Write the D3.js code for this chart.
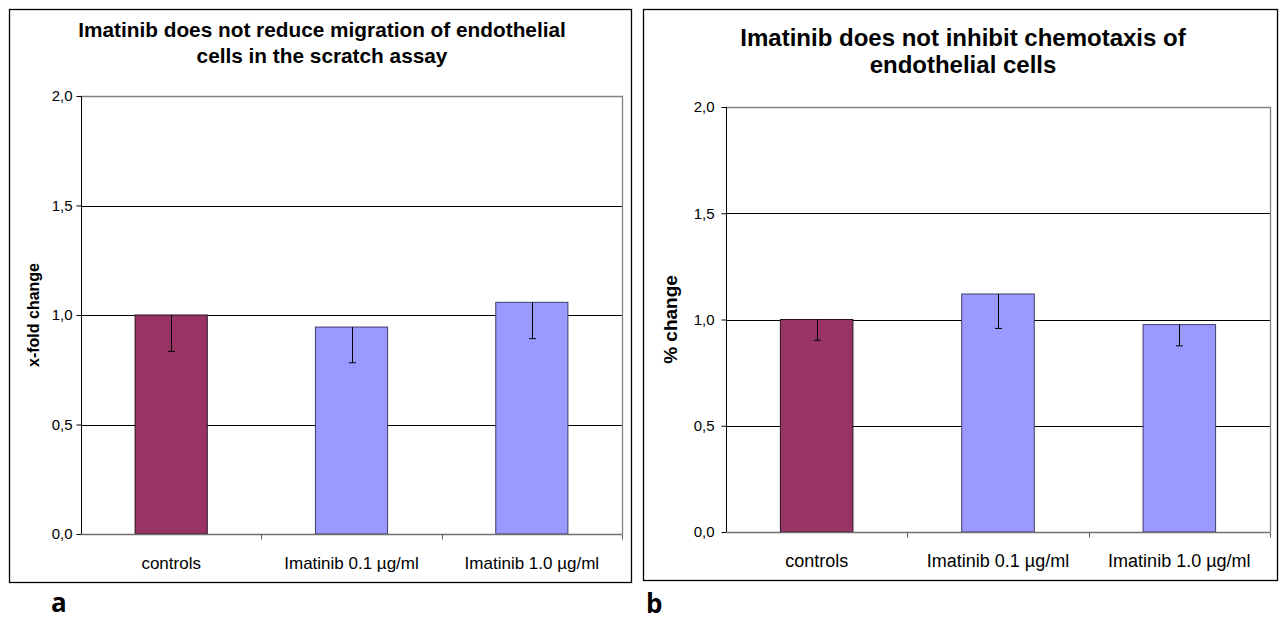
<!DOCTYPE html>
<html>
<head>
<meta charset="utf-8">
<script src="https://cdn.jsdelivr.net/npm/d3@7"></script>
<style>
  html, body { margin: 0; padding: 0; background: #ffffff; }
  svg { display: block; }
</style>
</head>
<body>
<svg id="chart" width="1279" height="620"></svg>
<script>
// Categories shared by both panels
const categories = ["controls", "Imatinib 0.1 µg/ml", "Imatinib 1.0 µg/ml"];

// Panel a: scratch assay migration (x-fold change, mean and minus error)
const migrationValues = [1.00, 0.945, 1.058];
const migrationErrors = [0.166, 0.163, 0.166];

// Panel b: chemotaxis (% change, mean and minus error)
const chemotaxisValues = [1.00, 1.12, 0.976];
const chemotaxisErrors = [0.098, 0.162, 0.100];

// Y axis ticks
const yTicks = [0, 0.5, 1.0, 1.5, 2.0];

const svg = d3.select("#chart");
const commaFmt = v => d3.format(".1f")(v).replace(".", ",");
const FONT = "Liberation Sans, Arial, sans-serif";

function drawPanel(opts) {
  const g = svg.append("g");

  // Panel frame
  g.append("rect")
    .attr("x", opts.frame.x0).attr("y", opts.frame.y0)
    .attr("width", opts.frame.x1 - opts.frame.x0)
    .attr("height", opts.frame.y1 - opts.frame.y0)
    .attr("fill", "#ffffff")
    .attr("stroke", "#000000")
    .attr("stroke-width", 1.3);

  const x = d3.scaleBand()
    .domain(categories)
    .range([opts.plot.x0, opts.plot.x1])
    .paddingInner(0).paddingOuter(0);

  const y = d3.scaleLinear()
    .domain([0, 2])
    .range([opts.plot.y1, opts.plot.y0]);

  // Gridlines
  g.append("g")
    .selectAll("line")
    .data(yTicks.filter(t => t > 0 && t < 2))
    .join("line")
    .attr("x1", opts.plot.x0).attr("x2", opts.plot.x1)
    .attr("y1", d => Math.round(y(d)) + 0.5).attr("y2", d => Math.round(y(d)) + 0.5)
    .attr("stroke", "#000000")
    .attr("stroke-width", 1);

  // Plot area top and right border
  g.append("path")
    .attr("d", `M${opts.plot.x0},${Math.round(y(2)) + 0.5}H${opts.plot.x1 + 0.5}V${opts.plot.y1}`)
    .attr("fill", "none")
    .attr("stroke", "#808080")
    .attr("stroke-width", 1.3);

  // Bars
  const barW = x.bandwidth() * 0.4;
  g.append("g")
    .selectAll("rect")
    .data(categories)
    .join("rect")
    .attr("x", d => x(d) + (x.bandwidth() - barW) / 2)
    .attr("y", (d, i) => y(opts.values[i]))
    .attr("width", barW)
    .attr("height", (d, i) => y(0) - y(opts.values[i]))
    .attr("fill", (d, i) => i === 0 ? "#993366" : "#9999FF")
    .attr("stroke", (d, i) => i === 0 ? "#2a0f1c" : "#3c3c66")
    .attr("stroke-width", 1);

  // Minus error bars
  const eb = g.append("g").attr("stroke", "#000000").attr("stroke-width", 1);
  categories.forEach((c, i) => {
    const cx = Math.round(x(c) + x.bandwidth() / 2) + 0.5;
    const top = y(opts.values[i]);
    const bot = y(opts.values[i] - opts.errors[i]);
    eb.append("line").attr("x1", cx).attr("x2", cx).attr("y1", top).attr("y2", bot);
    eb.append("line").attr("x1", cx - 3.5).attr("x2", cx + 3.5).attr("y1", bot).attr("y2", bot);
  });

  // Y axis
  const yAxis = g.append("g")
    .attr("transform", `translate(${opts.plot.x0 + 0.5},0)`)
    .call(d3.axisLeft(y).tickValues(yTicks).tickFormat(commaFmt).tickSize(5).tickPadding(opts.yPad));
  yAxis.select(".domain").attr("stroke", "#000000").attr("d", `M0,${y(2)}V${y(0)}`);
  yAxis.selectAll(".tick line").attr("stroke", "#000000");
  yAxis.selectAll(".tick text")
    .attr("font-family", FONT)
    .attr("font-size", opts.tickFont)
    .attr("fill", "#000000");

  // X axis
  const xAxis = g.append("g")
    .attr("transform", `translate(0,${Math.round(y(0)) + 0.5})`)
    .call(d3.axisBottom(x).tickSize(0).tickPadding(opts.xPad));
  xAxis.select(".domain").attr("stroke", "#707070").attr("stroke-width", 1.3)
    .attr("d", `M${opts.plot.x0},0H${opts.plot.x1}`);
  xAxis.selectAll(".tick text")
    .attr("font-family", FONT)
    .attr("font-size", opts.catFont)
    .attr("fill", "#000000");
  // Category separator ticks
  xAxis.append("g")
    .selectAll("line")
    .data(categories)
    .join("line")
    .attr("x1", d => Math.round(x(d) + x.bandwidth()) + 0.5)
    .attr("x2", d => Math.round(x(d) + x.bandwidth()) + 0.5)
    .attr("y1", 0).attr("y2", 5)
    .attr("stroke", "#555555");

  // Title
  const title = g.append("text")
    .attr("text-anchor", "middle")
    .attr("font-family", FONT)
    .attr("font-weight", "bold")
    .attr("font-size", opts.titleFont)
    .attr("fill", "#000000");
  opts.title.forEach((line, i) => {
    title.append("tspan")
      .attr("x", opts.titleX)
      .attr("y", opts.titleY + i * opts.titleLead)
      .text(line);
  });

  // Y axis label
  g.append("text")
    .attr("transform", `translate(${opts.yLabelX},${(y(0) + y(2)) / 2}) rotate(-90)`)
    .attr("text-anchor", "middle")
    .attr("font-family", FONT)
    .attr("font-weight", "bold")
    .attr("font-size", opts.yLabelFont)
    .attr("fill", "#000000")
    .text(opts.yLabel);

  // Panel letter
  g.append("text")
    .attr("x", opts.letterX).attr("y", opts.letterY)
    .attr("font-family", "Open Sans, Lato, sans-serif")
    .attr("font-weight", "bold")
    .attr("font-size", 26)
    .attr("fill", "#000000")
    .text(opts.letter);
}

drawPanel({
  frame: { x0: 9.5, y0: 9.5, x1: 631.5, y1: 582.5 },
  plot: { x0: 81, x1: 622, y0: 96, y1: 534 },
  values: migrationValues,
  errors: migrationErrors,
  title: ["Imatinib does not reduce migration of endothelial", "cells in the scratch assay"],
  titleX: 322, titleY: 37, titleLead: 26, titleFont: 20.8,
  yLabel: "x-fold change", yLabelX: 39, yLabelFont: 16,
  tickFont: 15, yPad: 4, catFont: 17, xPad: 22,
  letter: "a", letterX: 51, letterY: 612
});

drawPanel({
  frame: { x0: 643.5, y0: 9.5, x1: 1277.5, y1: 580.5 },
  plot: { x0: 726, x1: 1270, y0: 107, y1: 532 },
  values: chemotaxisValues,
  errors: chemotaxisErrors,
  title: ["Imatinib does not inhibit chemotaxis of", "endothelial cells"],
  titleX: 963, titleY: 46, titleLead: 27, titleFont: 24,
  yLabel: "% change", yLabelX: 677, yLabelFont: 19,
  tickFont: 15, yPad: 7, catFont: 18, xPad: 22,
  letter: "b", letterX: 646, letterY: 613
});
</script>
</body>
</html>
